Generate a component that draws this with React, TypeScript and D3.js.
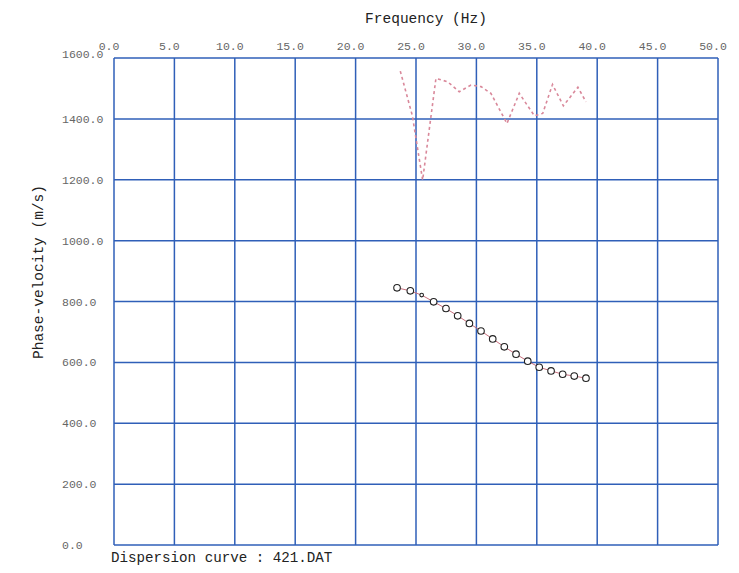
import React from "react";
import * as d3 from "d3";

const xTicks = [0, 5, 10, 15, 20, 25, 30, 35, 40, 45, 50];
const yTicks = [0, 200, 400, 600, 800, 1000, 1200, 1400, 1600];

const redFreq = [23.7, 24.7, 25.55, 26.65, 27.62, 28.58, 29.55, 30.38, 31.2, 32.53, 33.55, 34.8, 35.49, 36.3, 37.2, 38.4, 39.07];
const redVel = [1557, 1410, 1199, 1533, 1522, 1489, 1511, 1506, 1484, 1385, 1484, 1410, 1418, 1513, 1443, 1504, 1456];

const blkFreq = [23.43, 24.53, 25.47, 26.46, 27.48, 28.45, 29.42, 30.38, 31.35, 32.31, 33.28, 34.25, 35.2, 36.18, 37.14, 38.1, 39.07];
const blkVel = [845, 835, 821, 799, 777, 753, 728, 703, 677, 651, 627, 604, 584, 572, 561, 555, 548];

const W = 739;
const H = 573;
const L = 114, R = 718, T = 58, B = 545;
const font = "'Liberation Mono', monospace";
const gridColor = "#2f5fb8";

export default function App() {
  const x = d3.scaleLinear().domain([0, 50]).range([L, R]);
  const y = d3.scaleLinear().domain([0, 1600]).range([B, T]);
  const line = d3.line<[number, number]>().x(d => x(d[0])).y(d => y(d[1]));
  const red = redFreq.map((f, i) => [f, redVel[i]] as [number, number]);
  const blk = blkFreq.map((f, i) => [f, blkVel[i]] as [number, number]);

  return (
    <svg width={W} height={H} style={{ position: "absolute", left: 0, top: 0, background: "#fff" }}>
      <rect x={0} y={0} width={W} height={H} fill="#fff" />
      {xTicks.map(t => (
        <line key={"gx" + t} x1={x(t)} x2={x(t)} y1={T} y2={B} stroke={gridColor} strokeWidth={1.5} />
      ))}
      {yTicks.map(t => (
        <line key={"gy" + t} x1={L} x2={R} y1={y(t)} y2={y(t)} stroke={gridColor} strokeWidth={1.5} />
      ))}
      {xTicks.map(t => (
        <text key={"tx" + t} x={x(t) - 5} y={50} textAnchor="middle" fontFamily={font} fontSize={11.5} fill="#666">
          {t.toFixed(1)}
        </text>
      ))}
      {yTicks.map(t => (
        <text key={"ty" + t} x={62} y={y(t) + (t === 1600 ? 0 : 4)} textAnchor="start" fontFamily={font} fontSize={11.5} fill="#666">
          {t.toFixed(1)}
        </text>
      ))}
      <path d={line(red) || ""} fill="none" stroke="#d9889a" strokeWidth={1.6} strokeDasharray="3,3" />
      <path d={line(blk) || ""} fill="none" stroke="#c9707e" strokeWidth={1} />
      {blk.map((d, i) => (
        <circle key={"c" + i} cx={x(d[0])} cy={y(d[1])} r={i === 2 ? 1.8 : 3.3} fill="#fff" stroke="#222" strokeWidth={1.1} />
      ))}
      <text x={426} y={23} textAnchor="middle" fontFamily={font} fontSize={14.5} fill="#222">Frequency (Hz)</text>
      <text x={0} y={0} transform={`translate(43,272) rotate(-90)`} textAnchor="middle" fontFamily={font} fontSize={14.5} fill="#222">Phase-velocity (m/s)</text>
      <text x={111} y={562} textAnchor="start" fontFamily={font} fontSize={14.2} fill="#222">Dispersion curve : 421.DAT</text>
    </svg>
  );
}
